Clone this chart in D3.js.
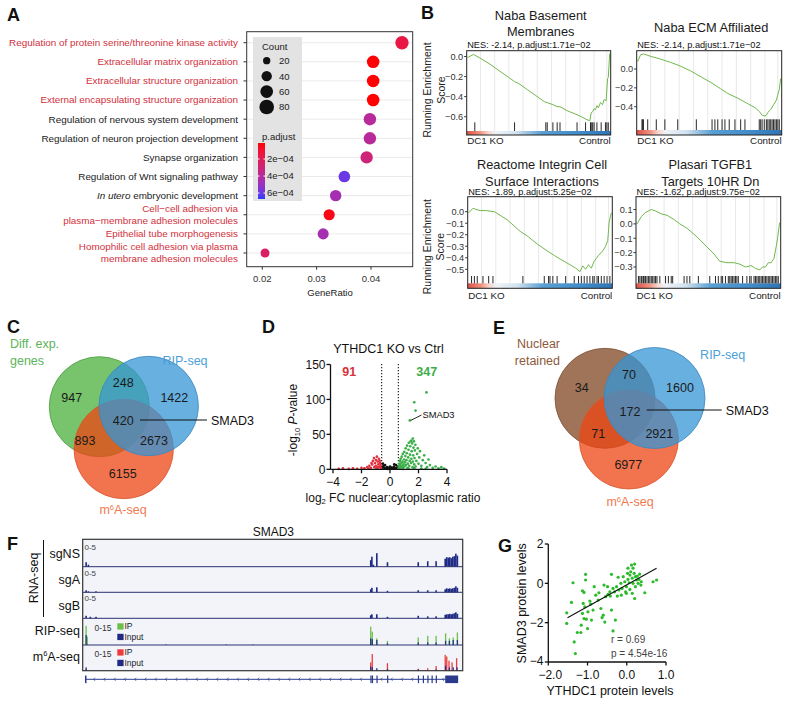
<!DOCTYPE html>
<html><head><meta charset="utf-8">
<script src="https://cdn.jsdelivr.net/npm/d3@7"></script>
<style>body{margin:0;background:#fff}svg{font-family:"Liberation Sans",Arial,sans-serif;display:block}</style>
</head><body>
<svg id="c" width="789" height="704"></svg>
<script>
// ================= DATA =================
// Panel A
const goTerms = [
  ["Regulation of protein serine/threonine kinase activity"],
  ["Extracellular matrix organization"],
  ["Extracellular structure organization"],
  ["External encapsulating structure organization"],
  ["Regulation of nervous system development"],
  ["Regulation of neuron projection development"],
  ["Synapse organization"],
  ["Regulation of Wnt signaling pathway"],
  ["In utero embryonic development"],
  ["Cell\u2212cell adhesion via", "plasma\u2212membrane adhesion molecules"],
  ["Epithelial tube morphogenesis"],
  ["Homophilic cell adhesion via plasma", "membrane adhesion molecules"]
];
const goHighlight = [1,1,1,1,0,0,0,0,0,1,1,1];
const goRatio = [0.0457,0.0404,0.0404,0.0404,0.0398,0.0398,0.0392,0.0351,0.0335,0.0323,0.0312,0.0205];
const goCount = [67,59,59,59,58,58,57,51,49,47,46,30];
const goPadj  = [1.5e-4,1.5e-5,1.5e-5,1.5e-5,3.9e-4,3.9e-4,3.0e-4,6.0e-4,4.6e-4,4e-5,4.6e-4,2.4e-4];
const countLegend = [20,40,60,80];
const padjTicks = [2e-4,4e-4,6e-4];
const geneRatioTicks = [0.02,0.03,0.04];

// Panel B
const gseaTitles = [["Naba Basement","Membranes"],["Naba ECM Affiliated"],["Reactome Integrin Cell","Surface Interactions"],["Plasari TGFB1","Targets 10HR Dn"]];
const gseaNES = ["NES: -2.14, p.adjust:1.71e\u221202","NES: -2.14, p.adjust:1.71e\u221202","NES: -1.89, p.adjust:5.25e\u221202","NES: -1.62, p.adjust:9.75e\u221202"];
const gseaTicks = [[0,-0.2,-0.4,-0.6],[0,-0.2,-0.4],[0,-0.1,-0.2,-0.3,-0.4,-0.5],[0.1,0,-0.1,-0.2,-0.3]];
const es1 = [[0,-0.01],[0.04,0.02],[0.08,-0.01],[0.15,-0.07],[0.22,-0.14],[0.29,-0.21],[0.33,-0.25],[0.36,-0.27],[0.42,-0.33],[0.48,-0.39],[0.54,-0.45],[0.56,-0.46],[0.58,-0.47],[0.6,-0.48],[0.63,-0.5],[0.65,-0.5],[0.7,-0.54],[0.77,-0.58],[0.8,-0.6],[0.84,-0.63],[0.86,-0.64],[0.87,-0.56],[0.88,-0.55],[0.89,-0.52],[0.9,-0.53],[0.91,-0.49],[0.92,-0.51],[0.935,-0.46],[0.95,-0.48],[0.96,-0.43],[0.975,-0.44],[0.985,-0.22],[0.99,-0.21],[1.0,0.03]];
const es2 = [[0,0.08],[0.02,0.15],[0.04,0.16],[0.1,0.13],[0.15,0.11],[0.23,0.07],[0.3,0.03],[0.37,-0.02],[0.45,-0.09],[0.52,-0.15],[0.58,-0.21],[0.63,-0.26],[0.7,-0.31],[0.76,-0.36],[0.82,-0.41],[0.85,-0.45],[0.87,-0.49],[0.89,-0.5],[0.9,-0.49],[0.91,-0.46],[0.93,-0.43],[0.95,-0.38],[0.97,-0.33],[0.98,-0.27],[0.99,-0.22],[1.0,-0.1]];
const es3 = [[0,-0.01],[0.03,0.03],[0.05,0.02],[0.08,0.01],[0.12,0.01],[0.18,0],[0.27,-0.07],[0.36,-0.17],[0.41,-0.21],[0.48,-0.28],[0.55,-0.34],[0.6,-0.38],[0.64,-0.41],[0.71,-0.46],[0.75,-0.49],[0.78,-0.52],[0.8,-0.47],[0.82,-0.5],[0.84,-0.46],[0.86,-0.49],[0.88,-0.43],[0.91,-0.38],[0.94,-0.34],[0.96,-0.3],[0.975,-0.25],[0.985,-0.09],[1.0,-0.01]];
const es4 = [[0,0.0],[0.03,0.05],[0.06,0.08],[0.1,0.1],[0.13,0.09],[0.17,0.07],[0.21,0.06],[0.26,0.03],[0.3,0.0],[0.35,-0.03],[0.42,-0.09],[0.49,-0.16],[0.54,-0.21],[0.58,-0.26],[0.63,-0.27],[0.68,-0.27],[0.72,-0.28],[0.76,-0.3],[0.8,-0.29],[0.83,-0.31],[0.86,-0.32],[0.88,-0.3],[0.9,-0.3],[0.92,-0.27],[0.94,-0.27],[0.96,-0.24],[0.975,-0.16],[0.985,-0.1],[1.0,0.01]];
const hits1 = [0.05,0.33,0.55,0.56,0.6,0.63,0.65,0.77,0.83,0.865,0.87,0.88,0.89,0.91,0.94,0.97,0.98,0.99];
const hits2 = [0.03,0.035,0.04,0.07,0.13,0.19,0.28,0.41,0.52,0.54,0.56,0.59,0.61,0.64,0.68,0.72,0.75,0.85,0.86,0.87,0.885,0.9,0.91,0.92,0.93,0.94,0.95,0.96,0.97,0.98,0.99];
const hits3 = [0.02,0.04,0.06,0.1,0.14,0.17,0.38,0.53,0.56,0.57,0.59,0.62,0.68,0.74,0.77,0.79,0.81,0.83,0.85,0.87,0.88,0.9,0.91,0.93,0.95,0.97,0.99];
const hits4 = [0.01,0.02,0.03,0.035,0.045,0.05,0.06,0.07,0.08,0.09,0.1,0.11,0.12,0.13,0.14,0.16,0.2,0.22,0.24,0.25,0.33,0.35,0.37,0.43,0.51,0.55,0.57,0.59,0.6,0.62,0.64,0.65,0.66,0.67,0.68,0.69,0.7,0.71,0.74,0.77,0.79,0.8,0.82,0.83,0.84,0.85,0.86,0.87,0.88,0.89,0.9,0.91,0.92,0.93,0.94,0.95,0.96,0.97,0.98,0.99];
const gseaGrid = [0.09,0.19,0.29,0.39,0.49,0.59,0.69,0.79,0.89,0.98];
const rankStops = [[0,"#d9534a"],[0.09,"#ef8f7c"],[0.15,"#f8d7cf"],[0.2,"#eef2f6"],[0.34,"#d3e3f0"],[0.42,"#9cc4e2"],[0.52,"#5a9fd3"],[0.8,"#3f8ac8"],[1,"#2f74b5"]];

// Panel C / E
const vennC = {a:947, ab:248, b:1422, abc:420, ac:893, bc:2673, c:6155};
const vennE = {a:34, ab:70, b:1600, abc:172, ac:71, bc:2921, c:6977};

// Panel D
const volRed = [[-3.6,0.5],[-3.3,1.2],[-2.9,0.6],[-2.6,1.5],[-2.3,0.8],[-2.0,2],[-1.8,1.5],[-1.6,3],[-1.45,5],[-1.35,2],[-1.25,7],[-1.2,12],[-1.12,16],[-1.05,9],[-1.0,5],[-0.98,13],[-0.92,18],[-0.9,3],[-0.86,11],[-0.82,7],[-0.78,15],[-0.74,4],[-0.7,9],[-0.66,6],[-0.63,2],[-1.5,1],[-1.1,3],[-0.95,1.5],[-0.8,2.5],[-1.3,9],[-0.72,12]];
const volBlack = [[-0.55,3],[-0.5,8],[-0.45,5],[-0.4,2],[-0.35,6],[-0.3,1],[-0.22,3],[-0.15,0.5],[-0.08,2],[0.0,4],[0.05,1],[0.12,2.5],[0.2,0.8],[0.28,3.5],[0.35,1.5],[0.42,6],[0.48,2],[0.55,4],[-0.6,1],[0.3,7]];
const volGreen = [[0.6,1],[0.62,4],[0.65,8],[0.68,2],[0.7,12],[0.72,6],[0.75,15],[0.78,3],[0.8,9],[0.82,18],[0.85,5],[0.88,11],[0.9,22],[0.92,2],[0.95,7],[0.98,14],[1.0,25],[1.02,4],[1.05,10],[1.08,19],[1.1,30],[1.12,6],[1.15,13],[1.18,23],[1.2,34],[1.22,2],[1.25,8],[1.28,17],[1.3,28],[1.32,38],[1.35,5],[1.38,12],[1.4,21],[1.42,33],[1.45,40],[1.48,9],[1.5,15],[1.52,26],[1.55,37],[1.58,3],[1.6,11],[1.62,20],[1.65,31],[1.68,40],[1.7,7],[1.72,16],[1.75,27],[1.78,35],[1.8,4],[1.85,12],[1.9,22],[1.95,30],[2.0,8],[2.05,17],[2.1,26],[2.2,5],[2.3,13],[2.4,20],[2.5,9],[2.6,3],[2.7,14],[2.8,6],[3.0,2],[3.2,4],[3.4,1.5],[3.6,3],[3.8,1],[1.79,84],[1.7,96],[2.56,110],[0.9,0.5],[1.3,1],[1.7,1.5],[2.2,1],[2.5,0.5],[1.6,44],[1.5,41]];
const volSmad3 = [1.39,70];
const volCounts = [91,347];
const volXTicks = [-4,-2,0,2,4];
const volYTicks = [0,50,100,150];

// Panel F (positions in % of locus, values in track units)
const covNS = [[0.9,0.9],[1.5,0.4],[75.8,1.3],[76.1,2.0],[76.5,0.4],[77.4,2.7],[80.2,0.9],[88.3,0.9],[90.8,1.1],[93,1.1],[95.4,1.6],[95.8,1.9],[96.2,1.8],[96.6,1.9],[97.0,1.7],[97.4,2.0],[97.8,2.1],[98.2,2.6],[98.6,2.2]];
const covA  = [[0.9,0.4],[1.5,0.2],[3.5,0.2],[75.8,0.6],[76.1,0.9],[77.4,1.0],[80.2,0.3],[88.3,0.4],[90.8,0.4],[93,0.4],[95.4,0.6],[95.8,0.8],[96.2,0.7],[96.6,0.8],[97.0,0.7],[97.4,0.8],[97.8,0.9],[98.2,1.2],[98.6,0.9]];
const covB  = [[0.9,0.5],[2,0.3],[3.5,0.3],[75.8,0.6],[76.1,0.8],[77.4,0.8],[80.2,0.3],[88.3,0.5],[90.8,0.4],[93,0.4],[95.4,0.7],[95.8,0.8],[96.2,0.8],[96.6,0.9],[97.0,0.8],[97.4,0.9],[97.8,1.0],[98.2,1.2],[98.6,0.9]];
const ripIP    = [[0.9,11.5],[1.2,5],[75.8,11],[76.2,8],[77.4,4],[80.2,2.5],[88.3,4.5],[90.8,5.5],[93,5.5],[95.5,7],[96.5,4],[97.5,4.5],[98.6,7.5]];
const ripInput = [[0.9,6],[22,0.3],[37.8,0.3],[44.8,0.3],[75.8,4],[76.2,3.5],[77.4,3],[80.2,1],[88.3,1.5],[90.8,1.5],[93,1.5],[95.5,2.5],[96.5,2.5],[97.5,3],[98.6,3]];
const m6aIP    = [[0.9,1],[75.8,5],[76.2,10],[80.2,4.5],[88.3,1.2],[90.8,1.5],[93,2.8],[95.4,9.5],[95.8,8.5],[96.4,6],[97.2,5],[98.4,7.5]];
const m6aInput = [[0.9,2],[75.8,2.5],[76.2,2],[77.4,1.5],[80.2,1],[88.3,0.8],[93,0.8],[95.5,3],[96.5,2],[97.5,2],[98.5,2]];
const exons = [[0.6,1.0],[75.7,76.0],[76.1,76.4],[77.3,77.6],[80.1,80.4],[88.2,88.5],[89.5,89.8],[90.7,91.0],[91.8,92.1],[92.9,93.2],[95.4,98.8]];
const trackNames = ["sgNS","sgA","sgB","RIP-seq","m6A-seq"];

// Panel G
const gPts = [[-1.53,-1.5],[-1.53,-2.04],[-1.41,-0.97],[-1.37,0.03],[-1.26,-2.5],[-1.17,-2.5],[-1.34,-2.98],[-1.31,-3.57],[-1.13,-0.38],[-1.09,-0.46],[-1.05,0.46],[-1.05,0.17],[-1.11,-1.02],[-1.07,-1.19],[-1.13,-1.53],[-1.09,-1.79],[-1.03,-1.82],[-1.0,-2.3],[-0.94,-0.9],[-0.92,-1.06],[-0.83,-0.17],[-0.79,-0.6],[-0.71,-0.48],[-0.66,-1.28],[-0.63,-1.74],[-0.56,-1.97],[-0.58,-0.09],[-0.49,-0.17],[-0.43,-0.43],[-0.39,0.46],[-0.35,-2.42],[-0.29,-1.87],[-0.48,-0.56],[-0.42,-0.65],[-0.35,-0.26],[-0.31,-0.43],[-0.26,-0.17],[-0.22,0.31],[-0.2,-0.34],[-0.15,0],[-0.12,-0.26],[-0.09,0.34],[-0.05,0.08],[-0.03,-0.43],[-0.01,-0.17],[0.02,0.51],[0.03,0.2],[0.06,0.03],[0.08,0.42],[0.1,0.59],[0.12,0.93],[0.14,0.26],[0.16,0],[0.19,0.51],[0.2,0.98],[0.22,0.34],[0.25,0.17],[0.22,-0.17],[0.27,0.37],[0.29,0],[0.31,0.2],[0.33,0.47],[0.36,-0.09],[0.37,0.08],[0.46,-0.48],[0.67,0.08],[0.76,0.17],[0.2,-0.77],[0.14,-0.51],[0.08,-0.31],[-0.01,-0.51],[-0.14,-0.6],[-0.24,-0.65],[-0.54,-0.68],[-0.73,-0.85],[-0.86,-1.36],[-0.99,-1.45],[-0.9,-1.87],[-1.16,-2.13],[-0.6,-1.62],[-0.39,-1.36],[0.03,0.77],[0.16,0.77]];
const gFit = [[-1.51,-1.75],[0.76,0.77]];
const gXTicks = [-2,-1,0,1];
const gYTicks = [2,0,-2,-4];

// ================= DRAW =================
const svg = d3.select("#c");
svg.append("rect").attr("width",789).attr("height",704).attr("fill","#fff");

function T(g,x,y,s,o={}){
  const t=g.append("text").attr("x",x).attr("y",y).text(s)
    .attr("font-size",o.size||12).attr("fill",o.fill||"#222")
    .attr("text-anchor",o.anchor||"start");
  if(o.weight) t.attr("font-weight",o.weight);
  if(o.style) t.attr("font-style",o.style);
  if(o.rotate!==undefined) t.attr("transform",`rotate(${o.rotate},${x},${y})`);
  return t;
}
[["A",7,20.5],["B",421,19],["C",7,333],["D",262,333],["E",493,334],["F",7,550],["G",498,552]]
 .forEach(([l,x,y])=>T(svg,x,y,l,{size:18,weight:"bold",fill:"#111"}));

// ---------- Panel A ----------
(function(){
  const g=svg.append("g");
  const x=d3.scaleLinear().domain([0.02,0.04]).range([262.3,371]);
  const y=d3.scalePoint().domain(d3.range(goTerms.length)).range([42.7,253]);
  const r=d3.scaleSqrt().domain([0,80]).range([0,7.3]);
  const col=d3.scaleLinear().domain([1.2e-5,6.7e-4]).range(["#ff0000","#2a3cff"]).interpolate(d3.interpolateLab);
  const X0=246.7,X1=412.7,Y0=31.7,Y1=266.7;
  g.append("rect").attr("x",X0).attr("y",Y0).attr("width",X1-X0).attr("height",Y1-Y0).attr("fill","#fff");
  g.selectAll("line.gr").data(d3.range(goTerms.length)).join("line")
    .attr("x1",X0).attr("x2",X1).attr("y1",d=>y(d)).attr("y2",d=>y(d)).attr("stroke","#ebebeb").attr("stroke-width",1);
  g.append("rect").attr("x",253).attr("y",37).attr("width",49).attr("height",164).attr("fill","#e3e3e3");
  T(g,262,49.5,"Count",{size:9.5,fill:"#222"});
  const ly=d3.scalePoint().domain(countLegend).range([60.7,107]);
  countLegend.forEach(c=>{
    g.append("circle").attr("cx",266.7).attr("cy",ly(c)).attr("r",r(c)).attr("fill","#111");
    T(g,279,ly(c)+3.4,String(c),{size:9.5});
  });
  T(g,262,139.5,"p.adjust",{size:9.5});
  const defs=svg.append("defs");
  const lg=defs.append("linearGradient").attr("id","padjGrad").attr("x1",0).attr("y1",0).attr("x2",0).attr("y2",1);
  d3.range(0,1.001,0.1).forEach(t=>lg.append("stop").attr("offset",t).attr("stop-color",col(1.2e-5+t*(6.7e-4-1.2e-5))));
  const cb=d3.scaleLinear().domain([1.2e-5,6.7e-4]).range([143,199]);
  g.append("rect").attr("x",258).attr("y",143).attr("width",7).attr("height",56).attr("fill","url(#padjGrad)");
  padjTicks.forEach(p=>{
    g.append("line").attr("x1",258).attr("x2",259.5).attr("y1",cb(p)).attr("y2",cb(p)).attr("stroke","#fff");
    g.append("line").attr("x1",263.5).attr("x2",265).attr("y1",cb(p)).attr("y2",cb(p)).attr("stroke","#fff");
    T(g,267,cb(p)+3.4,d3.format(".0e")(p).replace("e-4","e\u221204"),{size:9.5});
  });
  g.selectAll("circle.dot").data(goRatio).join("circle")
    .attr("cx",d=>x(d)).attr("cy",(d,i)=>y(i)).attr("r",(d,i)=>r(goCount[i])).attr("fill",(d,i)=>col(goPadj[i]));
  g.append("rect").attr("x",X0).attr("y",Y0).attr("width",X1-X0).attr("height",Y1-Y0).attr("fill","none").attr("stroke","#333").attr("stroke-width",1);
  goTerms.forEach((lines,i)=>{
    const fill=goHighlight[i]?"#d2303c":"#1a1a1a";
    g.append("line").attr("x1",243.5).attr("x2",X0).attr("y1",y(i)).attr("y2",y(i)).attr("stroke","#333");
    lines.forEach((s,k)=>{
      const yy=y(i)+3.4+(lines.length===2?(k===0?-6:6):0);
      if(s.startsWith("In utero")){
        const t=T(g,238,yy,"",{size:9.9,anchor:"end",fill});
        t.append("tspan").attr("font-style","italic").text("In utero");
        t.append("tspan").text(" embryonic development");
      } else T(g,238,yy,s,{size:9.9,anchor:"end",fill});
    });
  });
  geneRatioTicks.forEach(v=>{
    g.append("line").attr("x1",x(v)).attr("x2",x(v)).attr("y1",Y1).attr("y2",Y1+3).attr("stroke","#333");
    T(g,x(v),281.5,String(v),{size:9.5,anchor:"middle",fill:"#333"});
  });
  T(g,330,295.5,"GeneRatio",{size:9.5,anchor:"middle"});
})();

// ---------- Panel B ----------
(function(){
  const defs=svg.append("defs");
  const rg=defs.append("linearGradient").attr("id","rankGrad").attr("x1",0).attr("x2",1).attr("y1",0).attr("y2",0);
  rankStops.forEach(([o,c])=>rg.append("stop").attr("offset",o).attr("stop-color",c));
  const cfgs=[
    {x0:466.7,x1:610.7,y0:50.7,y1:135,dom:[0,-0.6],rng:[56.5,116.7],hy0:122.3,hy1:131,es:es1,hits:hits1,titleY:[20,36],nesY:47.8,lblY:143.5},
    {x0:636.7,x1:781.7,y0:50.7,y1:135,dom:[0,-0.4],rng:[69,106.7],hy0:119.3,hy1:130,es:es2,hits:hits2,titleY:[32],nesY:47.8,lblY:143.5},
    {x0:467.7,x1:612.3,y0:196.7,y1:288.3,dom:[0,-0.5],rng:[211.7,269.3],hy0:276,hy1:283.3,es:es3,hits:hits3,titleY:[168.5,185.5],nesY:195.2,lblY:298.5},
    {x0:636,x1:780.7,y0:196.7,y1:288.3,dom:[0.1,-0.3],rng:[209.5,267],hy0:276,hy1:283.3,es:es4,hits:hits4,titleY:[168.5,185.5],nesY:195.2,lblY:298.5}
  ];
  cfgs.forEach((c,i)=>{
    const g=svg.append("g");
    const x=d3.scaleLinear().domain([0,1]).range([c.x0+1,c.x1-1]);
    const y=d3.scaleLinear().domain(c.dom).range(c.rng);
    gseaGrid.forEach(f=>g.append("line").attr("x1",x(f)).attr("x2",x(f)).attr("y1",c.y0).attr("y2",c.hy1).attr("stroke","#e2e2e2").attr("stroke-width",0.8));
    g.append("rect").attr("x",c.x0).attr("y",c.hy1).attr("width",c.x1-c.x0).attr("height",c.y1-c.hy1).attr("fill","url(#rankGrad)");
    g.selectAll("line.hit").data(c.hits).join("line").attr("x1",d=>x(d)).attr("x2",d=>x(d)).attr("y1",c.hy0).attr("y2",c.hy1).attr("stroke","#111").attr("stroke-width",0.9);
    g.append("path").datum(c.es).attr("d",d3.line().x(d=>x(d[0])).y(d=>y(d[1]))).attr("fill","none").attr("stroke","#72b84e").attr("stroke-width",1);
    g.append("rect").attr("x",c.x0).attr("y",c.y0).attr("width",c.x1-c.x0).attr("height",c.y1-c.y0).attr("fill","none").attr("stroke","#222").attr("stroke-width",1);
    gseaTicks[i].forEach(v=>{
      g.append("line").attr("x1",c.x0-2.5).attr("x2",c.x0).attr("y1",y(v)).attr("y2",y(v)).attr("stroke","#333");
      T(g,c.x0-3.5,y(v)+3.3,d3.format(".1f")(v).replace("-","\u2212"),{size:9.2,anchor:"end",fill:"#333"});
    });
    const cx=(c.x0+c.x1)/2+2;
    gseaTitles[i].forEach((s,k)=>T(g,cx,c.titleY[k],s,{size:12.8,anchor:"middle",fill:"#1a1a1a"}));
    T(g,c.x0+0.5,c.nesY,gseaNES[i],{size:9.2,fill:"#111"});
    T(g,c.x0+0.5,c.lblY,"DC1 KO",{size:9.8,fill:"#222"});
    T(g,c.x1,c.lblY,"Control",{size:9.8,anchor:"end",fill:"#222"});
  });
  [[90],[246.7]].forEach(([cy])=>{
    T(svg,431,cy,"Running Enrichment",{size:10.5,anchor:"middle",rotate:-90,fill:"#222"});
    T(svg,444.5,cy,"Score",{size:10.5,anchor:"middle",rotate:-90,fill:"#222"});
  });
})();

// ---------- Venn helper ----------
function venn(circles, counts, pos){
  const g=svg.append("g");
  circles.forEach(c=>g.append("circle").attr("cx",c.cx).attr("cy",c.cy).attr("r",c.r)
    .attr("fill",c.fill).attr("fill-opacity",0.75).attr("stroke",c.stroke).attr("stroke-width",0.8));
  Object.keys(pos).forEach(k=>T(g,pos[k][0],pos[k][1]+4.5,String(counts[k]),{size:12.5,anchor:"middle",fill:"#1a1a1a"}));
  return g;
}
function m6a(g,x,y,size,fill,anchor){
  const t=T(g,x,y,"",{size,fill,anchor});
  t.append("tspan").text("m");
  t.append("tspan").attr("font-size",size*0.6).attr("dy",-size*0.35).text("6");
  t.append("tspan").attr("dy",size*0.35).text("A-seq");
  return t;
}

// ---------- Panel C ----------
(function(){
  const g=venn([
    {cx:99.3,cy:406.7,r:50,fill:"#4bb03b",stroke:"#4a9a40"},
    {cx:123.7,cy:449,r:49.7,fill:"#ee4613",stroke:"#d85530"},
    {cx:148.7,cy:406,r:49.7,fill:"#3696d6",stroke:"#3a86c0"}
  ],vennC,{a:[71.7,397.3],ab:[123.3,382.7],b:[174.3,397.3],abc:[123.3,420],ac:[85,440.7],bc:[154,440.7],c:[122.7,473.3]});
  g.append("line").attr("x1",140).attr("x2",207).attr("y1",420).attr("y2",420).attr("stroke","#111").attr("stroke-width",1.1);
  T(g,211,424.5,"SMAD3",{size:12.5,fill:"#111"});
  T(g,10,348,"Diff. exp.",{size:12.5,fill:"#5cb35a"});
  T(g,10,364.5,"genes",{size:12.5,fill:"#5cb35a"});
  T(g,185,364.5,"RIP-seq",{size:12.5,anchor:"middle",fill:"#4a9fd8"});
  m6a(g,123,514,12.5,"#f07a50","middle");
})();

// ---------- Panel E ----------
(function(){
  const g=venn([
    {cx:605,cy:398.3,r:50,fill:"#804620",stroke:"#7a5238"},
    {cx:628.8,cy:439.5,r:49.5,fill:"#ee4613",stroke:"#d85530"},
    {cx:654.5,cy:398,r:50.5,fill:"#3696d6",stroke:"#3a86c0"}
  ],vennE,{a:[581.7,387.7],ab:[629,374.3],b:[680,387.7],abc:[630,411],ac:[598.3,433.3],bc:[659.3,433.3],c:[628.3,464]});
  g.append("line").attr("x1",646.7).attr("x2",721.7).attr("y1",410).attr("y2",410).attr("stroke","#111").attr("stroke-width",1.1);
  T(g,725.7,414.5,"SMAD3",{size:12.5,fill:"#111"});
  T(g,560,347.5,"Nuclear",{size:12.5,anchor:"end",fill:"#8c5a3a"});
  T(g,560,364.5,"retained",{size:12.5,anchor:"end",fill:"#8c5a3a"});
  T(g,722.7,358.5,"RIP-seq",{size:12.5,anchor:"middle",fill:"#4a9fd8"});
  m6a(g,630,506,12.5,"#f07a50","middle");
})();

// ---------- Panel D ----------
(function(){
  const g=svg.append("g");
  const x=d3.scaleLinear().domain([-4,4]).range([333,447]);
  const y=d3.scaleLinear().domain([0,150]).range([469.3,364.5]);
  const AX=330.5;
  [-0.585,0.585].forEach(v=>g.append("line").attr("x1",x(v)).attr("x2",x(v)).attr("y1",364).attr("y2",469).attr("stroke","#111").attr("stroke-width",1.1).attr("stroke-dasharray","1.2,1.8"));
  const pts=(arr,c)=>g.selectAll(null).data(arr).join("circle").attr("cx",d=>x(d[0])).attr("cy",d=>y(d[1])).attr("r",1.35).attr("fill",c);
  pts(volBlack,"#111"); pts(volRed,"#e0333f"); pts(volGreen,"#3cae4a"); pts([volSmad3],"#3cae4a");
  g.append("line").attr("x1",AX).attr("x2",AX).attr("y1",y(150)).attr("y2",y(0)).attr("stroke","#111").attr("stroke-width",1.3);
  g.append("line").attr("x1",AX).attr("x2",x(4)).attr("y1",y(0)).attr("y2",y(0)).attr("stroke","#111").attr("stroke-width",1.3);
  volYTicks.forEach(v=>{
    g.append("line").attr("x1",AX-4).attr("x2",AX).attr("y1",y(v)).attr("y2",y(v)).attr("stroke","#111").attr("stroke-width",1.3);
    T(g,AX-5,y(v)+4.3,String(v),{size:12,anchor:"end",fill:"#111"});
  });
  volXTicks.forEach(v=>{
    g.append("line").attr("x1",x(v)).attr("x2",x(v)).attr("y1",y(0)).attr("y2",y(0)+4).attr("stroke","#111").attr("stroke-width",1.3);
    T(g,x(v),486,String(v).replace("-","\u2212"),{size:12,anchor:"middle",fill:"#111"});
  });
  T(g,349.3,376,String(volCounts[0]),{size:12.5,anchor:"middle",weight:"bold",fill:"#d8323c"});
  T(g,426.7,376,String(volCounts[1]),{size:12.5,anchor:"middle",weight:"bold",fill:"#3cae4a"});
  T(g,388.5,352.5,"YTHDC1 KO vs Ctrl",{size:12.5,anchor:"middle",fill:"#111"});
  g.append("line").attr("x1",x(volSmad3[0])+1).attr("y1",y(volSmad3[1])).attr("x2",421.5).attr("y2",415).attr("stroke","#111").attr("stroke-width",0.9);
  T(g,422.5,418,"SMAD3",{size:9.3,fill:"#111"});
  const yt=T(g,297,420,"",{size:12,anchor:"middle",rotate:-90,fill:"#111"});
  yt.append("tspan").text("-log");
  yt.append("tspan").attr("font-size",7.5).attr("dy",2.5).text("10");
  yt.append("tspan").attr("dy",-2.5).text(" ");
  yt.append("tspan").attr("font-style","italic").text("P");
  yt.append("tspan").text("-value");
  const xt=T(g,393,501.5,"",{size:12,anchor:"middle",fill:"#111"});
  xt.append("tspan").text("log");
  xt.append("tspan").attr("font-size",7.5).attr("dy",2.5).text("2");
  xt.append("tspan").attr("dy",-2.5).text(" FC nuclear:cytoplasmic ratio");
})();

// ---------- Panel F ----------
(function(){
  const g=svg.append("g");
  const X0=82.7,X1=462.7;
  const x=d3.scaleLinear().domain([0,100]).range([X0,X1]);
  const bounds=[539.3,566.7,592.3,618.3,645,670.7];
  g.append("rect").attr("x",X0).attr("y",bounds[0]).attr("width",X1-X0).attr("height",bounds[5]-bounds[0]).attr("fill","#f2f4f9");
  const hRNA=d3.scaleLinear().domain([0,5]).range([0,25]);
  const hCh=d3.scaleLinear().domain([0,15]).range([0,25]);
  function bars(data,base,h,c,w){
    g.selectAll(null).data(data).join("rect").attr("x",d=>x(d[0])-w/2).attr("width",w)
      .attr("y",d=>base-h(d[1])).attr("height",d=>h(d[1])).attr("fill",c);
  }
  const navy="#1e2a84";
  bars(covNS,bounds[1],hRNA,navy,1.6);
  bars(covA,bounds[2],hRNA,navy,1.6);
  bars(covB,bounds[3],hRNA,navy,1.6);
  bars(ripIP,bounds[4],hCh,"#6cc04a",1.3);
  bars(ripInput,bounds[4],hCh,"#1e3a7a",1.3);
  bars(m6aIP,bounds[5],hCh,"#ee3b3b",1.3);
  bars(m6aInput,bounds[5],hCh,"#2a2f8a",1.3);
  bounds.slice(1,5).forEach(b=>g.append("line").attr("x1",X0).attr("x2",X1).attr("y1",b).attr("y2",b).attr("stroke","#2a3170").attr("stroke-width",1));
  g.append("rect").attr("x",X0).attr("y",bounds[0]).attr("width",X1-X0).attr("height",bounds[5]-bounds[0]).attr("fill","none").attr("stroke","#333").attr("stroke-width",1.2);
  T(g,273.3,535.5,"SMAD3",{size:12,anchor:"middle",fill:"#111"});
  const lblY=[557.5,584,609.5,635,660.5];
  trackNames.forEach((s,i)=>{
    if(s==="m6A-seq") m6a(g,80,lblY[i],12.5,"#111","end");
    else T(g,80,lblY[i],s,{size:12.5,anchor:"end",fill:"#111"});
  });
  [549.5,575.5,601].forEach(yy=>T(g,84.5,yy,"0-5",{size:8,fill:"#444"}));
  T(svg,37.5,578,"RNA-seq",{size:12.5,anchor:"middle",rotate:-90,fill:"#111"});
  g.append("line").attr("x1",43.5).attr("x2",43.5).attr("y1",540).attr("y2",617).attr("stroke","#111").attr("stroke-width",1);
  [[631,"#6cc04a",623.3],[657,"#ee3b3b",649.3]].forEach(([ly,c,sy])=>{
    T(g,103,ly,"0-15",{size:8.5,anchor:"middle",fill:"#333"});
    g.append("rect").attr("x",117.3).attr("y",sy).attr("width",6.3).attr("height",6.3).attr("fill",c);
    g.append("rect").attr("x",117.3).attr("y",sy+10.5).attr("width",6.3).attr("height",6.3).attr("fill","#1e2a84");
    T(g,124.5,sy+6,"IP",{size:8.5,fill:"#222"});
    T(g,124.5,sy+16.5,"Input",{size:8.5,fill:"#222"});
  });
  const gy=679.3;
  g.append("line").attr("x1",x(0.6)).attr("x2",x(98.8)).attr("y1",gy).attr("y2",gy).attr("stroke","#2a3a8c").attr("stroke-width",1);
  d3.range(3,95,2.7).forEach(p=>{
    if(exons.some(e=>p>e[0]-0.6&&p<e[1]+0.6)) return;
    g.append("path").attr("d",`M${x(p)+1},${gy-1.6}L${x(p)-0.6},${gy}L${x(p)+1},${gy+1.6}`).attr("fill","none").attr("stroke","#2a3a8c").attr("stroke-width",0.7);
  });
  exons.forEach(e=>g.append("rect").attr("x",x(e[0])).attr("width",Math.max(1.2,x(e[1])-x(e[0]))).attr("y",gy-3.8).attr("height",7.6).attr("fill","#2a3a8c"));
})();

// ---------- Panel G ----------
(function(){
  const g=svg.append("g");
  const x=d3.scaleLinear().domain([-2,1]).range([548.3,666]);
  const y=d3.scaleLinear().domain([-4,2]).range([662,544]);
  g.selectAll(null).data(gPts).join("circle").attr("cx",d=>x(d[0])).attr("cy",d=>y(d[1])).attr("r",1.6).attr("fill","#2cbb2c");
  g.append("line").attr("x1",x(gFit[0][0])).attr("y1",y(gFit[0][1])).attr("x2",x(gFit[1][0])).attr("y2",y(gFit[1][1])).attr("stroke","#111").attr("stroke-width",1.1);
  g.append("line").attr("x1",548.3).attr("x2",548.3).attr("y1",y(2)).attr("y2",y(-4)).attr("stroke","#111").attr("stroke-width",1.3);
  g.append("line").attr("x1",548.3).attr("x2",x(1)).attr("y1",y(-4)).attr("y2",y(-4)).attr("stroke","#111").attr("stroke-width",1.3);
  gYTicks.forEach(v=>{
    g.append("line").attr("x1",544.8).attr("x2",548.3).attr("y1",y(v)).attr("y2",y(v)).attr("stroke","#111").attr("stroke-width",1.3);
    T(g,543.5,y(v)+(v===-4?3:4.3),String(v).replace("-","\u2212"),{size:12,anchor:"end",fill:"#111"});
  });
  gXTicks.forEach(v=>{
    g.append("line").attr("x1",x(v)).attr("x2",x(v)).attr("y1",y(-4)).attr("y2",y(-4)+3.5).attr("stroke","#111").attr("stroke-width",1.3);
    T(g,x(v)+(v===-2?2:0),679,d3.format(".1f")(v).replace("-","\u2212"),{size:12,anchor:"middle",fill:"#111"});
  });
  T(g,611,643,"r = 0.69",{size:10,fill:"#444"});
  T(g,611,657,"p = 4.54e-16",{size:10,fill:"#444"});
  T(g,610,695,"YTHDC1 protein levels",{size:12.5,anchor:"middle",fill:"#111"});
  T(g,526,603.3,"SMAD3 protein levels",{size:12.5,anchor:"middle",rotate:-90,fill:"#111"});
})();
</script>
</body></html>
